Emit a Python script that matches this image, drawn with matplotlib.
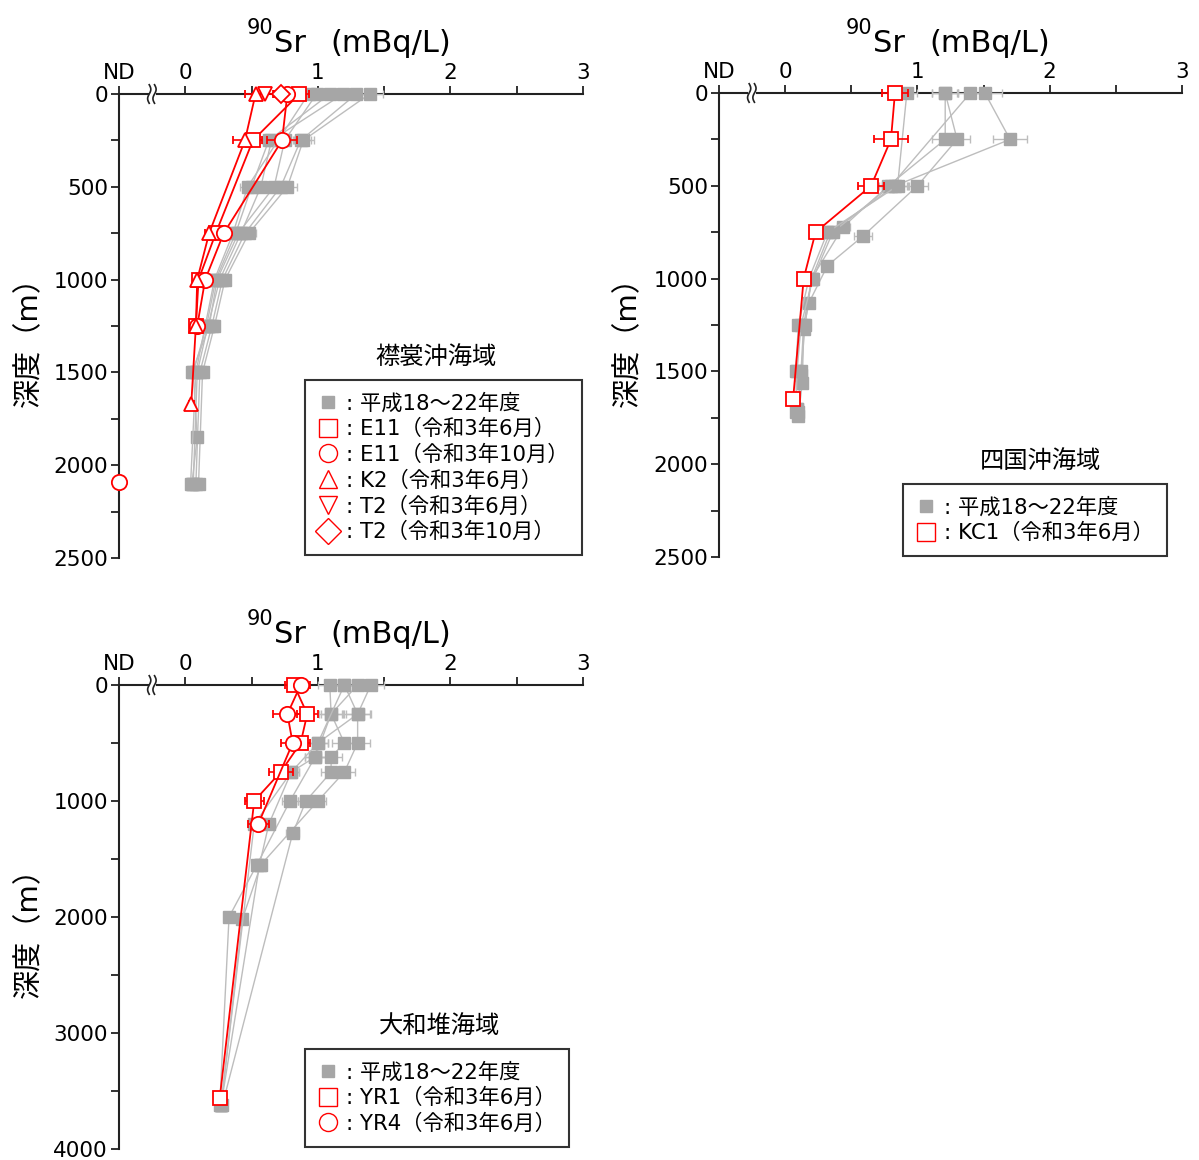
import numpy as np
import matplotlib
matplotlib.use("Agg")
import matplotlib.pyplot as plt
from matplotlib.lines import Line2D
from matplotlib.ticker import MultipleLocator, FixedLocator
import matplotlib.transforms as mtrans

plt.rcParams['font.family'] = ['DejaVu Sans', 'Noto Sans CJK JP']

ND = -0.5  # position used for "ND" on the x axis

# ---- 襟裳沖海域 (top left) ----
erimo_gray = [
    ([0, 250, 500, 750, 1000, 1250, 1500, 2100], [1.39, 0.89, 0.77, 0.48, 0.30, 0.22, 0.13, 0.10], [0.10, 0.08, 0.07, 0.05, 0.03, 0.03, 0.02, 0.02]),
    ([0, 250, 500, 750, 1000, 1250, 1500, 2100], [1.29, 0.87, 0.72, 0.45, 0.28, 0.20, 0.11, 0.08], [0.09, 0.08, 0.07, 0.05, 0.03, 0.02, 0.02, 0.02]),
    ([0, 250, 500, 750, 1000, 1250, 1500, 2100], [1.19, 0.65, 0.57, 0.42, 0.26, 0.17, 0.09, 0.06], [0.08, 0.07, 0.07, 0.04, 0.03, 0.02, 0.02, 0.02]),
    ([0, 250, 500, 750, 1000, 1250, 1500, 1850, 2100], [1.09, 0.63, 0.50, 0.38, 0.23, 0.16, 0.06, 0.09, 0.05], [0.08, 0.07, 0.06, 0.04, 0.03, 0.02, 0.02, 0.02, 0.02]),
    ([0, 250, 500, 750, 1000, 1250, 1500], [0.99, 0.75, 0.67, 0.40, 0.24, 0.18, 0.05], [0.08, 0.07, 0.06, 0.04, 0.03, 0.02, 0.02]),
    ([0, 500, 750, 1000, 1250, 1500, 2100], [0.93, 0.47, 0.36, 0.22, 0.15, 0.08, 0.04], [0.07, 0.06, 0.04, 0.03, 0.02, 0.02, 0.02]),
]
e11_jun_depth = [0, 250, 750, 1000, 1250]
e11_jun_val = [0.86, 0.51, 0.23, 0.10, 0.08]
e11_jun_err = [0.07, 0.07, 0.04, 0.03, 0.03]
e11_oct_depth = [0, 250, 750, 1000, 1250]
e11_oct_val = [0.77, 0.73, 0.29, 0.15, 0.09]
e11_oct_err = [0.07, 0.11, 0.04, 0.03, 0.02]
e11_oct_nd_depth = [2090]
k2_jun_depth = [0, 250, 750, 1000, 1250, 1670]
k2_jun_val = [0.53, 0.45, 0.18, 0.09, 0.08, 0.045]
k2_jun_err = [0.08, 0.09, 0.03, 0.02, 0.02, 0.02]
t2_jun_depth = [0]
t2_jun_val = [0.60]
t2_jun_err = [0.06]
t2_oct_depth = [0]
t2_oct_val = [0.72]
t2_oct_err = [0.05]

# ---- 四国沖海域 (top right) ----
shikoku_gray = [
    ([0, 250, 500, 750, 1000, 1250, 1500, 1720], [1.51, 1.70, 0.83, 0.34, 0.20, 0.14, 0.12, 0.10], [0.13, 0.13, 0.10, 0.05, 0.03, 0.02, 0.02, 0.02]),
    ([0, 250, 500, 720, 1000, 1250, 1520, 1700], [1.21, 1.21, 0.78, 0.44, 0.20, 0.15, 0.12, 0.09], [0.10, 0.10, 0.09, 0.05, 0.03, 0.02, 0.02, 0.02]),
    ([0, 250, 500, 770, 930, 1130, 1270, 1560, 1740], [1.21, 1.30, 1.00, 0.59, 0.32, 0.18, 0.14, 0.13, 0.10], [0.10, 0.10, 0.08, 0.07, 0.03, 0.02, 0.02, 0.02, 0.02]),
    ([0, 500, 750, 1000, 1250, 1500, 1720], [1.40, 0.80, 0.36, 0.21, 0.12, 0.09, 0.08], [0.10, 0.09, 0.05, 0.03, 0.02, 0.02, 0.02]),
    ([0, 500, 750, 1000, 1250, 1500, 1700], [0.92, 0.85, 0.32, 0.18, 0.10, 0.08, 0.09], [0.08, 0.09, 0.04, 0.03, 0.02, 0.02, 0.02]),
]
kc1_jun_depth = [0, 250, 500, 750, 1000, 1650]
kc1_jun_val = [0.83, 0.80, 0.65, 0.23, 0.14, 0.06]
kc1_jun_err = [0.10, 0.13, 0.10, 0.03, 0.03, 0.03]

# ---- 大和堆海域 (bottom left) ----
yamato_gray = [
    ([0, 250, 500, 750, 1000, 1550, 2020, 3620], [1.40, 1.30, 1.30, 1.20, 1.00, 0.57, 0.43, 0.27], [0.10, 0.09, 0.09, 0.08, 0.06, 0.04, 0.03, 0.02]),
    ([0, 250, 500, 620, 750, 1000, 1280, 3620], [1.30, 1.10, 1.20, 1.10, 1.10, 0.91, 0.81, 0.28], [0.09, 0.08, 0.09, 0.08, 0.08, 0.06, 0.05, 0.02]),
    ([0, 250, 500, 620, 1000, 1550, 2000, 3620], [1.20, 1.30, 1.00, 0.98, 0.79, 0.54, 0.33, 0.26], [0.09, 0.10, 0.08, 0.08, 0.06, 0.04, 0.03, 0.02]),
    ([0, 250, 620, 750, 1200, 1550, 3620], [1.09, 1.10, 0.98, 0.80, 0.63, 0.56, 0.27], [0.09, 0.09, 0.08, 0.06, 0.05, 0.04, 0.02]),
    ([0, 500, 750, 1200, 3620], [1.20, 1.00, 0.80, 0.52, 0.27], [0.09, 0.08, 0.06, 0.05, 0.02]),
]
yr1_jun_depth = [0, 250, 500, 750, 1000, 3560]
yr1_jun_val = [0.82, 0.92, 0.87, 0.72, 0.52, 0.26]
yr1_jun_err = [0.07, 0.08, 0.07, 0.09, 0.07, 0.03]
yr4_jun_depth = [0, 250, 500, 1200]
yr4_jun_val = [0.87, 0.77, 0.81, 0.55]
yr4_jun_err = [0.07, 0.11, 0.09, 0.08]

GRAY = '#a6a6a6'
GRAY_LINE = '#bdbdbd'
RED = '#ff0000'

W, H = 1199, 1160
fig = plt.figure(figsize=(W / 100, H / 100), dpi=100)


def px_box(left, top, right, bottom):
    return [left / W, 1 - bottom / H, (right - left) / W, (bottom - top) / H]


def setup_axis(ax, ymax, ymajor):
    ax.set_xlim(ND, 3)
    ax.set_ylim(ymax, 0)
    for s in ['right', 'bottom', 'top']:
        ax.spines[s].set_visible(False)
    ax.spines['left'].set_linewidth(1.5)
    ax.spines['left'].set_color('#222222')
    ax.xaxis.tick_top()
    ax.xaxis.set_major_locator(FixedLocator([ND, 0, 1, 2, 3]))
    ax.xaxis.set_minor_locator(FixedLocator([0.5, 1.5, 2.5]))
    ax.set_xticklabels(['ND', '0', '1', '2', '3'])
    ax.yaxis.set_major_locator(MultipleLocator(ymajor))
    ax.yaxis.set_minor_locator(MultipleLocator(ymajor / 2))
    ax.tick_params(axis='both', which='both', direction='out', width=1.3, color='#222222',
                   labelsize=15.5, pad=2)
    ax.tick_params(axis='both', which='major', length=6)
    ax.tick_params(axis='both', which='minor', length=6)
    # top axis line with a break between ND and 0
    ax.plot([ND, -0.285], [0, 0], color='#222222', lw=1.5, clip_on=False, zorder=1)
    ax.plot([-0.215, 3], [0, 0], color='#222222', lw=1.5, clip_on=False, zorder=1)
    trans = mtrans.blended_transform_factory(ax.transData, ax.transAxes)
    t = np.linspace(-1, 1, 30)
    for x0 in [-0.272, -0.232]:
        ax.plot(x0 + 0.012 * np.sin(np.pi * t), 1 + 0.02 * t, color='#222222', lw=1.2,
                transform=trans, clip_on=False, zorder=1)


def draw_gray(ax, profiles):
    for d, v, e in profiles:
        ax.errorbar(v, d, xerr=e, color=GRAY_LINE, lw=1.0, marker='s', ms=8.5, mfc=GRAY, mec=GRAY,
                    ecolor=GRAY_LINE, elinewidth=1.0, capsize=3, clip_on=False, zorder=2)


def draw_red(ax, d, v, e, marker, ms):
    ax.errorbar(v, d, xerr=e, color=RED, lw=1.3, marker=marker, ms=ms, mfc='white', mec=RED,
                mew=1.3, ecolor=RED, elinewidth=1.2, capsize=3, clip_on=False, zorder=4)


def add_legend(ax, entries, left, top, title, title_xy):
    handles = []
    labels = []
    for marker, filled, label in entries:
        if filled:
            h = Line2D([], [], ls='none', marker=marker, ms=8, mfc=GRAY, mec=GRAY)
        else:
            h = Line2D([], [], ls='none', marker=marker, ms=13, mfc='white', mec=RED, mew=1.0)
        handles.append(h)
        labels.append(label)
    leg = ax.legend(handles, labels, loc='upper left', bbox_to_anchor=(left / W, 1 - top / H),
                    bbox_transform=fig.transFigure, borderaxespad=0, frameon=True, fancybox=False,
                    fontsize=15.3, handlelength=1.0, handletextpad=0.35, labelspacing=0.26,
                    borderpad=0.6)
    leg.get_frame().set_edgecolor('black')
    leg.get_frame().set_linewidth(1.5)
    fig.text(title_xy[0] / W, 1 - title_xy[1] / H, title, ha='center', va='center', fontsize=17.5)


def add_titles(x_sr, y_base, ylab_x, ylab_y):
    fig.text(x_sr / W, 1 - y_base / H, 'Sr', ha='left', va='baseline', fontsize=22)
    fig.text((x_sr + 56) / W, 1 - y_base / H, '(mBq/L)', ha='left', va='baseline', fontsize=22)
    fig.text((x_sr - 1) / W, 1 - (y_base - 18) / H, '90', ha='right', va='baseline', fontsize=15)
    fig.text(ylab_x / W, 1 - ylab_y / H, '深度（m）', rotation=90,
             ha='center', va='center', fontsize=21)


# ---- top left ----
ax1 = fig.add_axes(px_box(119, 94, 583, 558))
setup_axis(ax1, 2500, 500)
draw_gray(ax1, erimo_gray)
draw_red(ax1, e11_jun_depth, e11_jun_val, e11_jun_err, 's', 10)
draw_red(ax1, e11_oct_depth, e11_oct_val, e11_oct_err, 'o', 11)
draw_red(ax1, k2_jun_depth, k2_jun_val, k2_jun_err, '^', 10)
draw_red(ax1, t2_jun_depth, t2_jun_val, t2_jun_err, 'v', 10)
draw_red(ax1, t2_oct_depth, t2_oct_val, t2_oct_err, 'D', 9)
ax1.plot([ND] * len(e11_oct_nd_depth), e11_oct_nd_depth, ls='none', marker='o', ms=11,
         mfc='white', mec=RED, mew=1.3, clip_on=False, zorder=5)
add_legend(ax1, [('s', True, ': 平成18～22年度'),
                 ('s', False, ': E11（令和3年6月）'),
                 ('o', False, ': E11（令和3年10月）'),
                 ('^', False, ': K2（令和3年6月）'),
                 ('v', False, ': T2（令和3年6月）'),
                 ('D', False, ': T2（令和3年10月）')],
           305, 380, '襟裳沖海域', (436, 357))
add_titles(274, 52, 29, 335)

# ---- top right ----
ax2 = fig.add_axes(px_box(719, 93, 1182, 557))
setup_axis(ax2, 2500, 500)
draw_gray(ax2, shikoku_gray)
draw_red(ax2, kc1_jun_depth, kc1_jun_val, kc1_jun_err, 's', 10)
add_legend(ax2, [('s', True, ': 平成18～22年度'),
                 ('s', False, ': KC1（令和3年6月）')],
           903, 484, '四国沖海域', (1040, 461))
add_titles(873, 52, 628, 335)

# ---- bottom left ----
ax3 = fig.add_axes(px_box(119, 685, 583, 1149))
setup_axis(ax3, 4000, 1000)
draw_gray(ax3, yamato_gray)
draw_red(ax3, yr1_jun_depth, yr1_jun_val, yr1_jun_err, 's', 10)
draw_red(ax3, yr4_jun_depth, yr4_jun_val, yr4_jun_err, 'o', 11)
add_legend(ax3, [('s', True, ': 平成18～22年度'),
                 ('s', False, ': YR1（令和3年6月）'),
                 ('o', False, ': YR4（令和3年6月）')],
           305, 1049, '大和堆海域', (440, 1026))
add_titles(274, 643, 29, 925)

fig.savefig('out.png', dpi=100)
